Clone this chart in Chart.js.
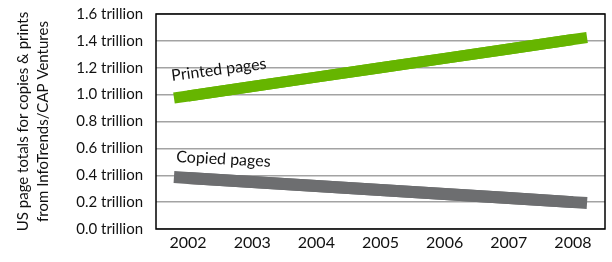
<!DOCTYPE html>
<html>
<head>
<meta charset="utf-8">
<script src="https://cdn.jsdelivr.net/npm/chart.js@4.4.1/dist/chart.umd.min.js"></script>
<style>
    html, body { margin: 0; padding: 0; background: #fff; }
    #wrap { width: 612px; height: 262px; }
</style>
</head>
<body>
<div id="wrap"><canvas id="pages-chart" width="612" height="262"></canvas></div>
<script>
const years = ['2002', '2003', '2004', '2005', '2006', '2007', '2008'];
const printedPages = [0.99, 1.06, 1.13, 1.20, 1.27, 1.34, 1.41];
const copiedPages = [0.38, 0.35, 0.32, 0.29, 0.26, 0.23, 0.20];
const yTicks = [0, 0.2, 0.4, 0.6, 0.8, 1.0, 1.2, 1.4, 1.6];
const yTitle = ['US page totals for copies & prints', 'from InfoTrends/CAP Ventures'];

const FONT = 'Lato, "Open Sans", sans-serif';

// the original lines run a little past the first and last year,
// so lay down the stretched stroke first and let the dataset draw over it
const lineEnds = {
    id: 'lineEnds',
    beforeDatasetsDraw(chart) {
        const ctx = chart.ctx;
        const xs = chart.scales.x;
        const step = xs.getPixelForValue(1) - xs.getPixelForValue(0);
        chart.data.datasets.forEach((ds, i) => {
            const pts = chart.getDatasetMeta(i).data;
            if (pts.length < 2) return;
            const ext = (a, b) => {
                const k = (step * 0.22) / Math.abs(b.x - a.x);
                return { x: a.x + (a.x - b.x) * k, y: a.y + (a.y - b.y) * k };
            };
            const s = ext(pts[0], pts[1]);
            const e = ext(pts[pts.length - 1], pts[pts.length - 2]);
            ctx.save();
            ctx.strokeStyle = ds.borderColor;
            ctx.lineWidth = ds.borderWidth;
            ctx.lineCap = 'butt';
            ctx.lineJoin = 'round';
            ctx.beginPath();
            ctx.moveTo(s.x, s.y);
            pts.forEach((p) => ctx.lineTo(p.x, p.y));
            ctx.lineTo(e.x, e.y);
            ctx.stroke();
            ctx.restore();
        });
    },
};

const seriesLabels = {
    id: 'seriesLabels',
    afterDatasetsDraw(chart) {
        const ctx = chart.ctx;
        const xs = chart.scales.x, ys = chart.scales.y;
        const x0 = xs.getPixelForValue(0);
        ctx.save();
        ctx.fillStyle = '#111';
        ctx.font = '16px ' + FONT;
        ctx.textBaseline = 'alphabetic';

        ctx.save();
        ctx.translate(x0 - 16, ys.getPixelForValue(printedPages[0]) - 15);
        ctx.rotate(-7.4 * Math.PI / 180);
        ctx.fillText('Printed pages', 0, 0);
        ctx.restore();

        ctx.save();
        ctx.translate(x0 - 12, ys.getPixelForValue(copiedPages[0]) - 16);
        ctx.rotate(3 * Math.PI / 180);
        ctx.fillText('Copied pages', 0, 0);
        ctx.restore();

        ctx.restore();
    },
};

const frame = {
    id: 'frame',
    afterDraw(chart) {
        const { left, top, right, bottom } = chart.chartArea;
        const ctx = chart.ctx;
        ctx.save();
        ctx.strokeStyle = '#000';
        ctx.lineWidth = 1.5;
        ctx.strokeRect(left, top, right - left, bottom - top);
        ctx.restore();
    },
};

new Chart(document.getElementById('pages-chart'), {
    type: 'line',
    data: {
        labels: years,
        datasets: [
            {
                label: 'Printed pages',
                data: printedPages,
                borderColor: '#66b500',
                borderWidth: 11,
                borderCapStyle: 'butt',
                pointRadius: 0,
                tension: 0,
            },
            {
                label: 'Copied pages',
                data: copiedPages,
                borderColor: '#6d6e70',
                borderWidth: 12,
                borderCapStyle: 'butt',
                pointRadius: 0,
                tension: 0,
            },
        ],
    },
    options: {
        responsive: false,
        animation: false,
        layout: { padding: { top: 14, right: 7, bottom: 0, left: 0 } },
        plugins: {
            legend: { display: false },
            tooltip: { enabled: false },
        },
        scales: {
            x: {
                offset: true,
                grid: { display: false, drawTicks: false },
                border: { display: false },
                ticks: { color: '#111', font: { family: FONT, size: 16 }, padding: 4, maxRotation: 0 },
                afterFit: (s) => { s.height = 33; s.paddingLeft = 0; s.paddingRight = 0; },
            },
            y: {
                min: 0,
                max: 1.6,
                afterBuildTicks: (s) => { s.ticks = yTicks.map((v) => ({ value: v })); },
                grid: { color: '#a3a3a3', lineWidth: 1.5, drawTicks: false },
                border: { display: false },
                ticks: {
                    color: '#111',
                    font: { family: FONT, size: 15 },
                    padding: 13,
                    callback: (v) => Number(v).toFixed(1) + ' trillion',
                },
                title: {
                    display: true,
                    text: yTitle,
                    color: '#111',
                    font: { family: FONT, size: 15, lineHeight: 1.35 },
                    padding: { top: 13, bottom: 0 },
                },
                afterFit: (s) => { s.width = 156; s.paddingTop = 0; s.paddingBottom = 0; },
            },
        },
    },
    plugins: [lineEnds, seriesLabels, frame],
});
</script>
</body>
</html>
